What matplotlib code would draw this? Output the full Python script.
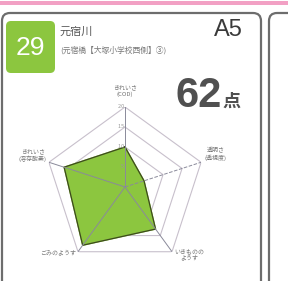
import numpy as np
import matplotlib
matplotlib.use("Agg")
import matplotlib.pyplot as plt
from matplotlib.patches import FancyBboxPatch

plt.rcParams['font.family'] = ['Noto Sans CJK JP', 'DejaVu Sans']

# ---- data ----
axis_labels = ["きれいさ\n(COD)", "透明さ\n(透視度)", "いきものの\nようす", "ごみのようす", "きれいさ\n(溶存酸素)"]
scores = [10, 5, 13, 18, 16]
ring_levels = [5, 10, 15, 20]
tick_labels = ["5", "10", "15", "20"]
max_score = 20
site_no = "29"
river = "元宿川"
site = "(元宿橋【大塚小学校西側】③)"
code = "A5"
total = "62"

W, H = 288, 281
fig = plt.figure(figsize=(W / 100, H / 100), dpi=100)
bg = fig.add_axes([0, 0, 1, 1])
bg.set_xlim(0, W)
bg.set_ylim(H, 0)
bg.axis("off")

# pink top strip
bg.add_patch(plt.Rectangle((0, 1), W, 4, color="#f2a0c4", lw=0))
# card frames
bg.add_patch(FancyBboxPatch((2, 13), 259, 290, boxstyle="round,pad=0,rounding_size=8",
                            fc="white", ec="#6d6d6d", lw=1.6))
bg.add_patch(FancyBboxPatch((269, 13), 60, 290, boxstyle="round,pad=0,rounding_size=8",
                            fc="white", ec="#6d6d6d", lw=1.6))
# badge
bg.add_patch(FancyBboxPatch((6, 21), 49, 52, boxstyle="round,pad=0,rounding_size=5",
                            fc="#8cc63f", ec="none"))
bg.text(30.5, 48, site_no, color="white", fontsize=19, ha="center", va="center",
        family="Liberation Sans")
bg.text(60, 32, river, color="#555555", fontsize=8, ha="left", va="center")
bg.text(60, 50, site, color="#777777", fontsize=5.6, ha="left", va="center")
bg.text(243, 30, code, color="#3a3a3a", fontsize=17, ha="right", va="center",
        family="Liberation Sans")
bg.text(222, 96, total, color="#505050", fontsize=30, ha="right", va="center",
        family="Liberation Sans", fontweight="bold")
bg.text(222, 101, "点", color="#505050", fontsize=13, ha="left", va="center",
        fontweight="bold")

# ---- radar ----
cx, cy, R = 125, 187, 80
ax = fig.add_axes([(cx - R) / W, (H - cy - R) / H, 2 * R / W, 2 * R / H], projection="polar")
ax.set_theta_offset(np.pi / 2)
ax.set_theta_direction(-1)
ax.set_ylim(0, max_score)
ax.axis("off")
n = len(scores)
ang = np.linspace(0, 2 * np.pi, n, endpoint=False)
angc = np.concatenate([ang, ang[:1]])
for lv in ring_levels:
    ax.plot(angc, [lv] * (n + 1), color="#c8c0cc", lw=0.8, zorder=1)
vals = np.array(scores + scores[:1], dtype=float)
ax.fill(angc, vals, color="#8cc63f", zorder=2)
ax.plot(angc, vals, color="#3d4a1e", lw=0.9, zorder=3)
for i, a in enumerate(ang):
    ax.plot([a, a], [0, max_score], color="#8a8a9a", lw=0.7,
            ls="--" if i == 1 else "-", zorder=4)
for lv, tl in zip(ring_levels, tick_labels):
    ax.text(0, lv, tl + " ", fontsize=4, color="#999999", ha="right", va="center", zorder=5)
placement = [(1.13, "center", "bottom"), (1.05, "left", "bottom"), (1.04, "left", "center"),
             (1.05, "right", "bottom"), (1.03, "right", "bottom")]
for a, lab, (f, ha, va) in zip(ang, axis_labels, placement):
    ax.text(a, max_score * f, lab, fontsize=4.3, color="#777777", ha=ha, va=va,
            multialignment="center", linespacing=1.2, zorder=5)

fig.savefig("out.png", dpi=100)
